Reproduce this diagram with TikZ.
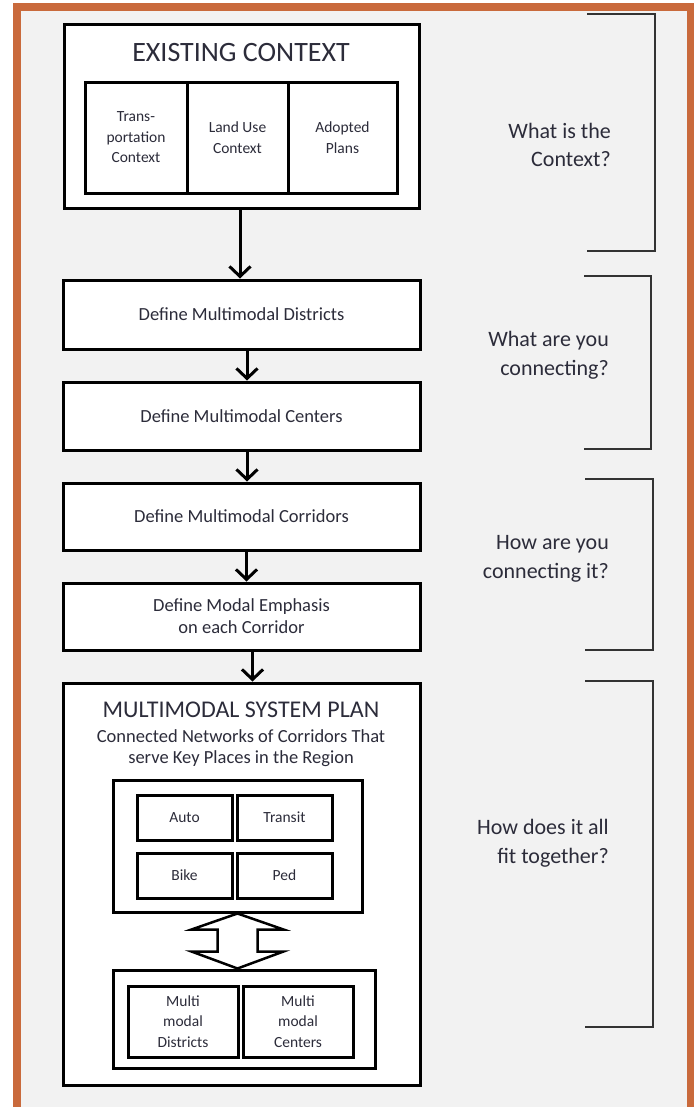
\documentclass[tikz,border=0pt]{standalone}
\usepackage{fontspec}
\setmainfont{Carlito}
\usetikzlibrary{arrows.meta,calc}
\definecolor{frameor}{HTML}{C96A3C}
\definecolor{bgc}{HTML}{F2F2F2}
\definecolor{txt}{HTML}{2C2C3A}
\definecolor{brk}{HTML}{333333}
\tikzset{
  box/.style={draw=black, line width=3pt, fill=white, inner sep=0pt, align=center, text=txt},
  lbl/.style={inner sep=0pt, align=center, text=txt},
  qtext/.style={inner sep=0pt, align=right, text=txt, anchor=east, font=\fontsize{22}{28.5}\selectfont},
  flowarr/.style={line width=3pt, -{Straight Barb[length=10pt,width=21pt]}},
  bracket/.style={draw=brk, line width=1.5pt},
  fbig/.style={font=\fontsize{28}{32}\selectfont},
  fmid/.style={font=\fontsize{18.5}{22}\selectfont},
  fsmall/.style={font=\fontsize{15.5}{20.5}\selectfont}
}
\begin{document}
\begin{tikzpicture}[x=1pt,y=-1pt]
\useasboundingbox (0,0) rectangle (694,1111);
% frame
\fill[white] (0,0) rectangle (694,1111);
\fill[bgc] (21,11) rectangle (687,1107);
\fill[frameor] (13,3) rectangle (21,1107);
\fill[frameor] (13,3) rectangle (694,11);
\fill[frameor] (687,3) rectangle (694,1107);

% existing context
\node[box, minimum width=355pt, minimum height=184pt] (ec) at (241.5,116) {};
\node[lbl, fbig] (ectitle) at (241,53) {EXISTING CONTEXT};
\node[box, fsmall, minimum width=102pt, minimum height=111pt] (tc) at (136,137.5) {Trans-\\portation\\Context};
\node[box, fsmall, minimum width=101pt, minimum height=111pt] (lu) at (237.5,137.5) {Land Use\\Context};
\node[box, fsmall, minimum width=109pt, minimum height=111pt] (ap) at (342.5,137.5) {Adopted\\Plans};

% steps
\node[box, fmid, minimum width=357pt, minimum height=69pt] (d1) at (241.5,314.5) {Define Multimodal Districts};
\node[box, fmid, minimum width=357pt, minimum height=68pt] (d2) at (241.5,416) {Define Multimodal Centers};
\node[box, fmid, minimum width=357pt, minimum height=67pt] (d3) at (241.5,516.5) {Define Multimodal Corridors};
\node[box, fmid, minimum width=357pt, minimum height=67pt] (d4) at (241.5,616.5) {Define Modal Emphasis\\on each Corridor};

% system plan
\node[box, minimum width=357pt, minimum height=402pt] (msp) at (241.5,884) {};
\node[lbl, font=\fontsize{24}{28}\selectfont] (msptitle) at (241,710) {MULTIMODAL SYSTEM PLAN};
\node[lbl, font=\fontsize{18.5}{21}\selectfont] (mspsub) at (241,748) {Connected Networks of Corridors That\\serve Key Places in the Region};
\node[box, minimum width=249pt, minimum height=132pt] (modes) at (237.5,846) {};
\node[box, fsmall, minimum width=95pt, minimum height=45pt] (auto) at (184.5,817.5) {Auto};
\node[box, fsmall, minimum width=95pt, minimum height=45pt] (transit) at (284.5,817.5) {Transit};
\node[box, fsmall, minimum width=95pt, minimum height=45pt] (bike) at (184.5,875.5) {Bike};
\node[box, fsmall, minimum width=95pt, minimum height=45pt] (ped) at (284.5,875.5) {Ped};
\node[box, minimum width=262pt, minimum height=98pt] (places) at (244,1019) {};
\node[box, fsmall, minimum width=110pt, minimum height=71pt] (mdist) at (183,1021.5) {Multi\\modal\\Districts};
\node[box, fsmall, minimum width=110pt, minimum height=71pt] (mcent) at (298,1021.5) {Multi\\modal\\Centers};

% double block arrow between modes and places
\draw[line width=2.5pt, fill=white, line join=miter]
  (modes.south) -- ++(46,16) -- ++(-26,0) -- ++(0,22) -- ++(26,0)
  -- ($(modes.south)+(0,55)$) -- ++(-46,-17) -- ++(26,0) -- ++(0,-22) -- ++(-26,0) -- cycle;

% flow arrows
\draw[flowarr] ([xshift=-1.5pt]ec.south) -- ([xshift=-1.5pt]ec.south |- d1.north);
\draw[flowarr] ([xshift=5.5pt]d1.south) -- ([xshift=5.5pt]d1.south |- d2.north);
\draw[flowarr] ([xshift=5.5pt]d2.south) -- ([xshift=5.5pt]d2.south |- d3.north);
\draw[flowarr] ([xshift=5pt]d3.south) -- ([xshift=5pt]d3.south |- d4.north);
\draw[flowarr] ([xshift=11pt]d4.south) -- ([xshift=11pt]d4.south |- msp.north);

% brackets
\draw[bracket] (587,14) -- (655,14) -- (655,251) -- (587,251);
\draw[bracket] (584,276) -- (651,276) -- (651,449) -- (584,449);
\draw[bracket] (585,479) -- (653,479) -- (653,650) -- (585,650);
\draw[bracket] (585,681) -- (653,681) -- (653,1027) -- (585,1027);

% questions
\node[qtext] (q1) at (611,145) {What is the\\Context?};
\node[qtext] (q2) at (609,355) {What are you\\connecting?};
\node[qtext] (q3) at (609,559) {How are you\\connecting it?};
\node[qtext] (q4) at (609,843) {How does it all\\fit together?};
\end{tikzpicture}
\end{document}
